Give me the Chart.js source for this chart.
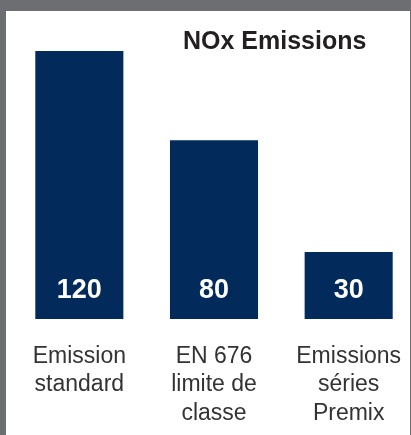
<!DOCTYPE html>
<html>
<head>
<meta charset="utf-8">
<script src="https://cdn.jsdelivr.net/npm/chart.js@4"></script>
<style>
    html, body { margin: 0; padding: 0; }
    body {
        width: 411px;
        height: 435px;
        background: #6d6e71;
        overflow: hidden;
        position: relative;
        font-family: 'Liberation Sans', Arial, sans-serif;
    }
    .panel {
        position: absolute;
        left: 6px;
        top: 11px;
        width: 404px;
        height: 424px;
        background: #fff;
        overflow: hidden;
    }
    .panel h1 {
        position: absolute;
        left: 177px;
        top: 17px;
        margin: 0;
        font-size: 25px;
        line-height: 1;
        font-weight: bold;
        color: #231f20;
        white-space: nowrap;
    }
    canvas { position: absolute; left: 0; top: 0; }
</style>
</head>
<body>
<div class="panel">
    <canvas id="chart" width="410" height="424"></canvas>
    <h1>NOx Emissions</h1>
</div>
<script>
// NOx emissions by category
const categories = [
    ['Emission', 'standard'],
    ['EN 676', 'limite de', 'classe'],
    ['Emissions', 'séries', 'Premix']
];
const values = [120, 80, 30];
const barColor = '#022a5b';

// draws the value inside each bar, near its base
const barValueLabels = {
    id: 'barValueLabels',
    afterDatasetsDraw(chart) {
        const ctx = chart.ctx;
        const meta = chart.getDatasetMeta(0);
        ctx.save();
        ctx.fillStyle = '#ffffff';
        ctx.font = "bold 27px 'Liberation Sans', Arial, sans-serif";
        ctx.textAlign = 'center';
        ctx.textBaseline = 'middle';
        meta.data.forEach((bar, i) => {
            ctx.fillText(String(values[i]), bar.x, bar.base - 28);
        });
        ctx.restore();
    }
};

new Chart(document.getElementById('chart'), {
    type: 'bar',
    data: {
        labels: categories,
        datasets: [{
            data: values,
            backgroundColor: barColor,
            borderWidth: 0,
            categoryPercentage: 1,
            barPercentage: 0.654
        }]
    },
    options: {
        responsive: false,
        animation: false,
        layout: {
            padding: { left: 6, right: 0, top: 40, bottom: 0 }
        },
        plugins: {
            legend: { display: false },
            tooltip: { enabled: false },
            title: { display: false }
        },
        scales: {
            x: {
                // invisible tick marks give the gap under the bars
                grid: {
                    display: true,
                    drawOnChartArea: false,
                    drawTicks: true,
                    tickLength: 23,
                    color: 'rgba(0,0,0,0)'
                },
                border: { display: false },
                ticks: {
                    color: '#333333',
                    padding: 0,
                    maxRotation: 0,
                    autoSkip: false,
                    font: {
                        size: 23,
                        family: "'Liberation Sans', Arial, sans-serif",
                        lineHeight: 1.24
                    }
                },
                afterFit(axis) {
                    axis.height = 116;
                }
            },
            y: {
                display: false,
                min: 0,
                max: 120
            }
        }
    },
    plugins: [barValueLabels]
});
</script>
</body>
</html>
